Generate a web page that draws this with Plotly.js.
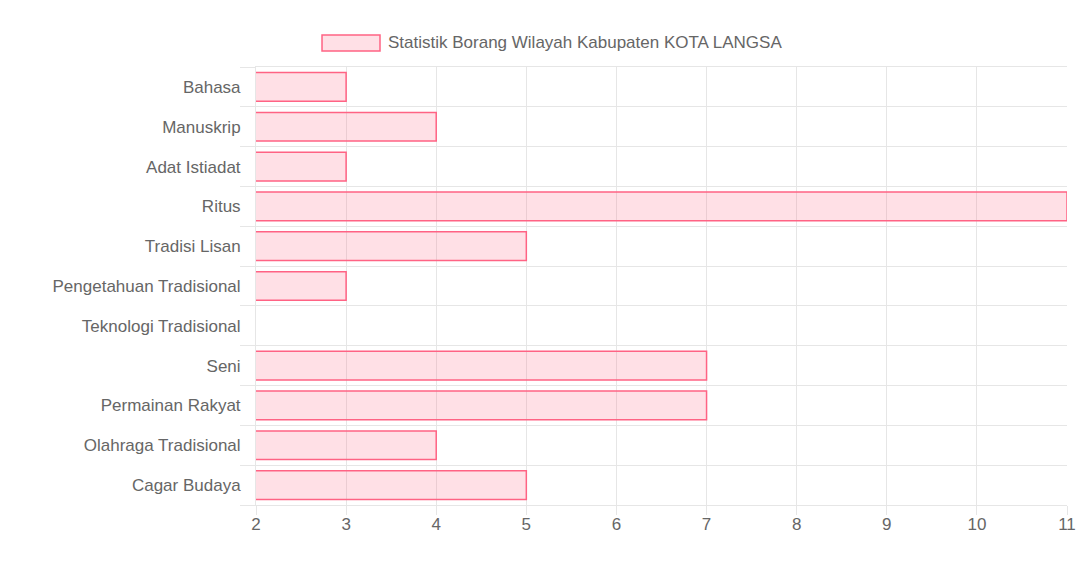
<!DOCTYPE html>
<html>
<head>
<meta charset="utf-8">
<script src="https://cdn.plot.ly/plotly-3.0.1.min.js"></script>
<style>html,body{margin:0;padding:0;background:#fff;}#chart{width:1088px;height:563px;}</style>
</head>
<body>
<div id="chart"></div>
<script>
const seriesName = "Statistik Borang Wilayah Kabupaten KOTA LANGSA";
const categories = ["Bahasa","Manuskrip","Adat Istiadat","Ritus","Tradisi Lisan","Pengetahuan Tradisional","Teknologi Tradisional","Seni","Permainan Rakyat","Olahraga Tradisional","Cagar Budaya"];
const values = [3,4,3,11,5,3,2,7,7,4,5];
const xTicks = [2,3,4,5,6,7,8,9,10,11];

const positions = categories.map((c,i)=>i);
const font = {family:"Liberation Sans, Arial, sans-serif", size:17, color:"#666"};
const grid = "#e6e6e6";
const axisMin = 2;

const trace = {
  type:"bar", orientation:"h", name:seriesName,
  x: values, y: positions,
  width: 0.72,
  marker:{color:"rgba(255,99,132,0.2)",
    line:{color: values.map(v => v > axisMin ? "rgb(255,99,132)" : "rgba(0,0,0,0)"), width:1.5}},
  hoverinfo:"x+text", text: categories, textposition:"none"
};

const layout = {
  width:1088, height:563,
  margin:{l:256, r:21, t:67, b:58},
  paper_bgcolor:"#fff", plot_bgcolor:"#fff",
  showlegend:false,
  font: font,
  xaxis:{
    range:[axisMin,11], tickvals:xTicks, showgrid:true, gridcolor:grid, gridwidth:1,
    ticks:"outside", ticklen:9, tickcolor:grid, tickfont:font, ticklabelstandoff:-5,
    showline:true, linecolor:grid, mirror:true, zeroline:false
  },
  yaxis:{
    range:[10.5,-0.5], tickvals:positions, ticktext:categories, showgrid:false,
    ticks:"outside", ticklen:11, tickcolor:"rgba(0,0,0,0)", tickfont:font, zeroline:false,
    showline:true, linecolor:grid,
    minor:{tick0:0.5, dtick:1, showgrid:true, gridcolor:grid, gridwidth:1, ticks:"outside", ticklen:15, tickcolor:grid}
  },
  shapes:[{type:"rect", xref:"paper", yref:"paper", x0:0.0814, x1:0.1529, y0:1.0365, y1:1.073,
    fillcolor:"rgba(255,99,132,0.2)", line:{color:"rgb(255,99,132)", width:1.5}}],
  annotations:[{xref:"paper", yref:"paper", x:0.1603, y:1.0548, xanchor:"left", yanchor:"middle",
    text:seriesName, showarrow:false, font:font}]
};

Plotly.newPlot("chart", [trace], layout, {displayModeBar:false, staticPlot:true});
</script>
</body>
</html>
